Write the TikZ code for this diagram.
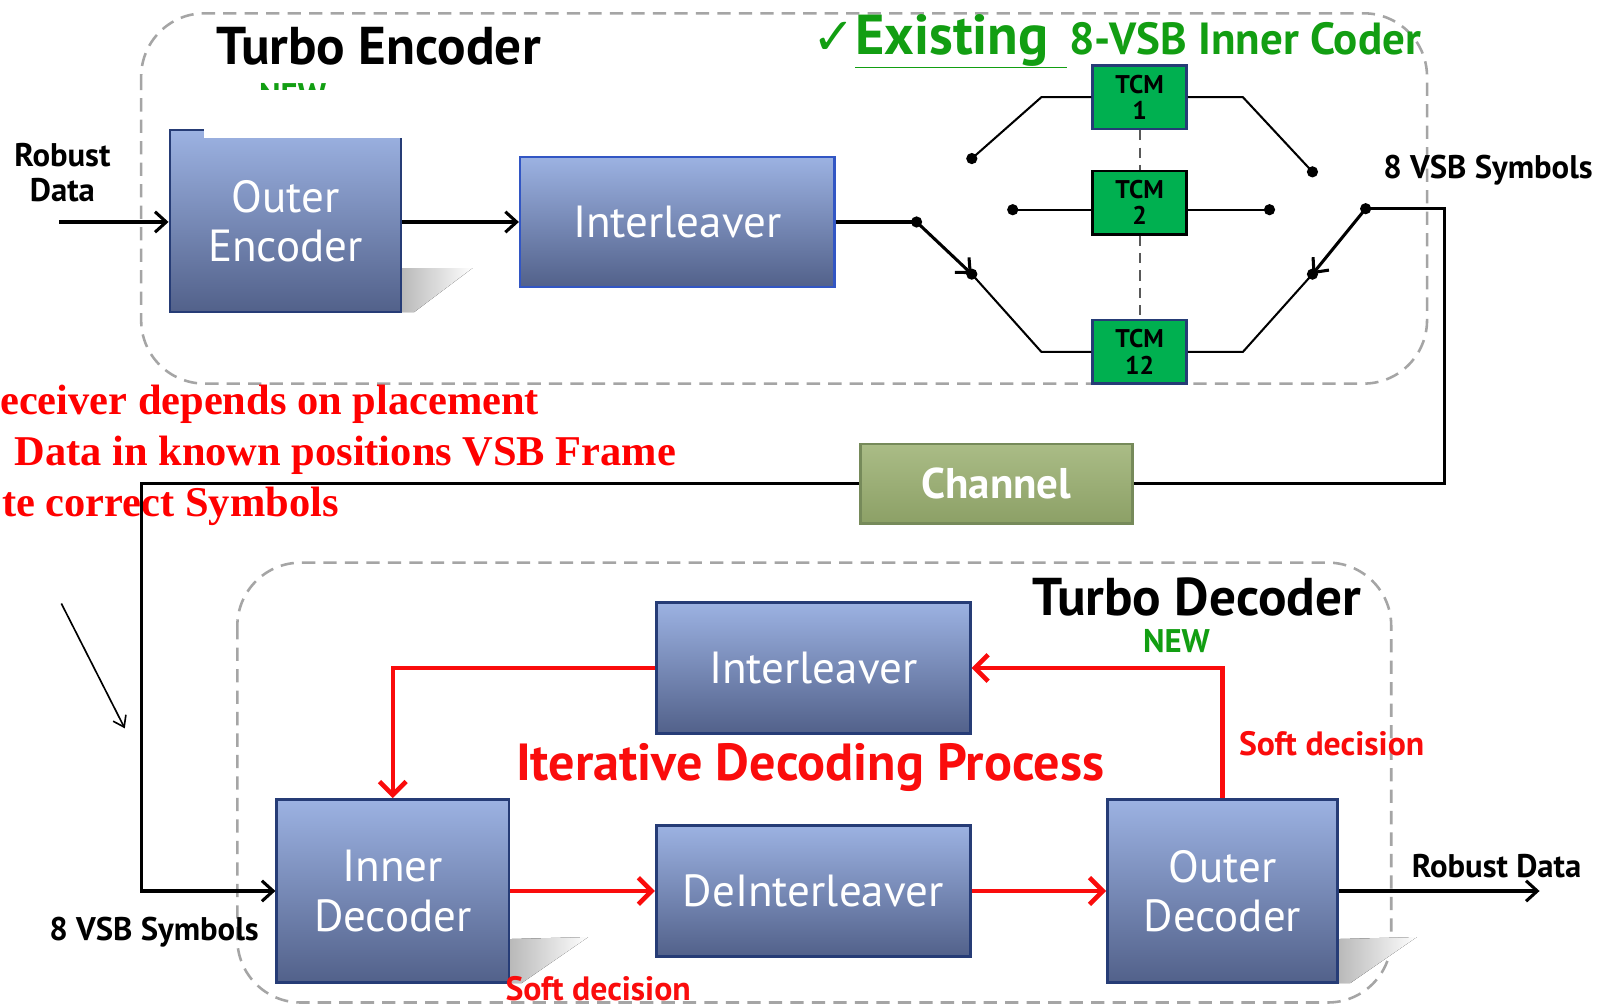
\documentclass[tikz,border=0pt]{standalone}
\usepackage{fontspec}
\setmainfont{PT Sans}
\newfontfamily\serifbold{Liberation Serif}
\newfontfamily\dejavu{DejaVu Sans}
\usetikzlibrary{arrows.meta,calc}

\definecolor{boxtop}{RGB}{156,178,226}
\definecolor{boxbot}{RGB}{82,97,138}
\definecolor{boxedge}{RGB}{38,60,118}
\definecolor{boxedgeb}{RGB}{50,86,196}
\definecolor{dashgray}{RGB}{165,165,165}
\definecolor{tcmgreen}{RGB}{0,176,80}
\definecolor{txtgreen}{RGB}{18,158,18}
\definecolor{chantop}{RGB}{170,188,134}
\definecolor{chanbot}{RGB}{140,160,102}
\definecolor{chanedge}{RGB}{118,138,90}
\definecolor{redline}{RGB}{250,12,12}

\newcommand\fs[2]{\fontsize{#1}{#2}\selectfont}

\begin{document}
\begin{tikzpicture}[x=1pt,y=-1pt,
  blk/.style={draw=boxedge, line width=2.5pt, top color=boxtop, bottom color=boxbot,
    text=white, align=center, inner sep=0pt, font=\fs{44}{48}},
  tcm/.style={draw=boxedge, line width=2.5pt, fill=tcmgreen, align=center, inner sep=0pt,
    minimum width=92pt, minimum height=62pt, font=\bfseries\fs{25}{26}},
  dot/.style={circle, fill=black, inner sep=0pt, minimum size=11pt},
  conn/.style={line width=3pt, black},
  tline/.style={line width=2pt, black},
  carrow/.style={conn, -{Straight Barb[length=11pt,width=20pt,line width=3pt]}},
  rconn/.style={line width=4.5pt, redline},
  rarrow/.style={rconn, -{Straight Barb[length=13pt,width=26pt,line width=4.5pt]}},
  lbl/.style={font=\bfseries\fs{32}{34}, align=center, inner sep=0pt},
  region/.style={draw=dashgray, line width=2.5pt, dash pattern=on 13pt off 8pt, rounded corners=62pt},
  vdash/.style={line width=2pt, draw=black!65, dash pattern=on 10pt off 7pt},
  shadowwedge/.style={left color=black!28, right color=white, draw=none},
  note/.style={anchor=base west, inner sep=0pt, text=red, font=\serifbold\bfseries\fs{41.5}{44}}
]
\useasboundingbox (0,0) rectangle (1568,984);
\fill[white] (0,0) rectangle (1568,984);

% dashed regions
\draw[region] (138,13) rectangle (1395,375);
\draw[region] (232,550) rectangle (1360,980);

% titles
\node[font=\bfseries\fs{52}{56}, inner sep=0pt] (tenc) at (370,45) {Turbo Encoder};
\node[font=\bfseries\fs{32}{34}, text=txtgreen, inner sep=0pt] (new1) at (286,93) {NEW};
\node[font=\bfseries\fs{52}{56}, inner sep=0pt] (tdec) at (1170,584) {Turbo Decoder};
\node[font=\bfseries\fs{32}{34}, text=txtgreen, inner sep=0pt] (new2) at (1150,627) {NEW};

\node[anchor=base west, inner sep=0pt, text=txtgreen] (exist) at (794,53)
  {{\dejavu\fs{50}{52}✓}{\bfseries\fs{55}{57}\underline{Existing\hspace{18pt}}}\hspace{2pt}{\bfseries\fs{44}{46}8-VSB Inner Coder}};

% box shadows
\fill[shadowwedge] (392,305) -- (392,262) -- (462,262) -- (405,305) -- cycle;
\fill[shadowwedge] (497,961) -- (497,918) -- (575,916) -- (510,961) -- cycle;
\fill[shadowwedge] (1307,961) -- (1307,918) -- (1385,916) -- (1320,961) -- cycle;

% encoder blocks
\node[blk, minimum width=226pt, minimum height=178pt] (oenc) at (279,216) {Outer\\Encoder};
\fill[white] (199,88) rectangle (397,134.5);
\node[blk, draw=boxedgeb, minimum width=307pt, minimum height=127pt] (ileava) at (662,217) {Interleaver};

\node[lbl] (rdin) at (61,169) {Robust\\Data};
\coordinate (rdstart) at (58,217);
\draw[carrow] (rdstart) -- (oenc.west |- rdstart);
\draw[carrow] (oenc.east |- rdstart) -- (ileava.west |- rdstart);

% TCM section
\node[tcm] (tcma) at (1114,95) {TCM\\1};
\node[tcm, draw=black] (tcmb) at (1114,198) {TCM\\2};
\node[tcm] (tcmc) at (1114,344) {TCM\\12};

\node[dot] (sl) at (896,217) {};
\node[dot] (a1) at (950,155) {};
\node[dot] (a2) at (990,205) {};
\node[dot] (a3) at (950,268) {};
\node[dot] (b1) at (1283,168) {};
\node[dot] (b2) at (1241,205) {};
\node[dot] (b3) at (1283,268) {};
\node[dot] (sr) at (1335,204) {};

\draw[conn] (ileava.east |- sl) -- (sl.center);
\draw[carrow] (sl.center) -- (a3.center);
\draw[tline] (a1.center) -- (1018,95) -- (tcma.west);
\draw[tline] (tcma.east) -- (1215,95) -- (b1.center);
\draw[tline] (a2.center) -- (tcmb.west |- a2);
\draw[tline] (tcmb.east |- b2) -- (b2.center);
\draw[tline] (a3.center) -- (1018,344) -- (tcmc.west);
\draw[tline] (tcmc.east) -- (1215,344) -- (b3.center);
\draw[vdash] (tcma.south) -- (tcmb.north);
\draw[vdash] (tcmb.south) -- (tcmc.north);
\draw[carrow] (sr.center) -- (b3.center);

\node[lbl, anchor=west] (vsbout) at (1352,166) {8 VSB Symbols};

% channel
\node[draw=chanedge, line width=2.5pt, top color=chantop, bottom color=chanbot, text=white,
  minimum width=266pt, minimum height=78pt, inner sep=0pt, font=\bfseries\fs{42}{44}] (chan) at (974,473) {Channel};
\draw[conn] (sr.center) -- (1412,204) -- (1412,473) -- (chan.east);

% red note
\node[note] (n1) at (0,405) {eceiver depends on placement};
\node[note] (n2) at (14,455) {Data in known positions VSB Frame};
\node[note] (n3) at (2,505) {te correct Symbols};

\coordinate (ptra) at (60,590);
\coordinate (ptrb) at (122,712);
\draw[line width=1.6pt, -{Straight Barb[length=10pt,width=14pt,line width=1.6pt]}] (ptra) -- (ptrb);

% decoder blocks
\node[blk, minimum width=307pt, minimum height=128pt] (ileavb) at (795,653) {Interleaver};
\node[blk, minimum width=227pt, minimum height=179pt] (idec) at (384,871) {Inner\\Decoder};
\node[blk, minimum width=307pt, minimum height=128pt] (dint) at (795,871) {DeInterleaver};
\node[blk, minimum width=225pt, minimum height=179pt] (odec) at (1195,871) {Outer\\Decoder};

\node[font=\bfseries\fs{51}{54}, text=redline, inner sep=0pt] (itp) at (792,750) {Iterative Decoding Process};

\draw[carrow] (chan.west) -- (138,473) -- (138,871) -- (idec.west);
\node[lbl, anchor=west] (vsbin) at (48,911) {8 VSB Symbols};

\draw[rarrow] (idec.east) -- (dint.west);
\draw[rarrow] (dint.east) -- (odec.west);
\draw[rarrow] (odec.north) -- (odec.north |- ileavb.east) -- (ileavb.east);
\draw[rarrow] (ileavb.west) -- (idec.north |- ileavb.west) -- (idec.north);

\node[font=\bfseries\fs{33}{35}, text=redline, inner sep=0pt, anchor=west] (sd1) at (1211,727) {Soft decision};
\node[font=\bfseries\fs{33}{35}, text=redline, inner sep=0pt, anchor=west] (sd2) at (494,966) {Soft decision};

\coordinate (rdend) at (1505,871);
\draw[carrow] (odec.east) -- (rdend);
\node[lbl, anchor=west] (rdout) at (1380,847) {Robust Data};
\end{tikzpicture}
\end{document}
